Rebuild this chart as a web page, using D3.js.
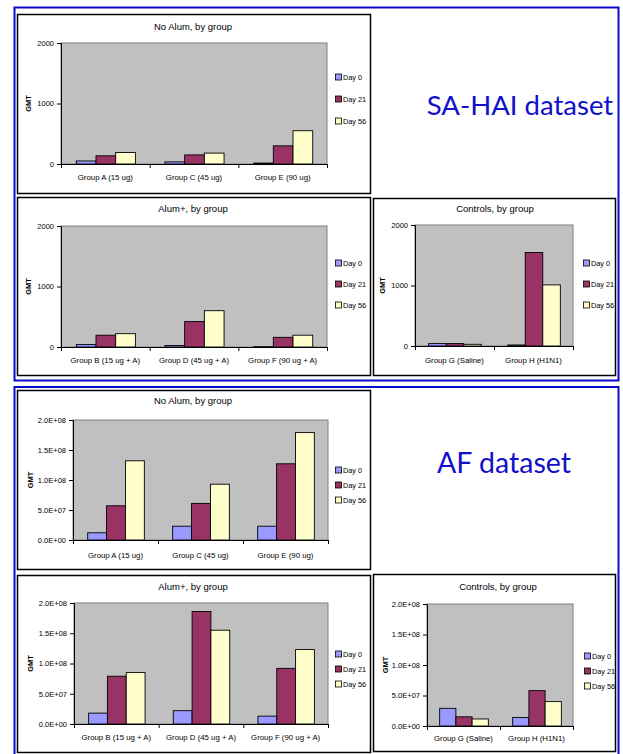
<!DOCTYPE html>
<html>
<head>
<meta charset="utf-8">
<script src="https://cdn.jsdelivr.net/npm/d3@7"></script>
<style>
  html, body { margin: 0; padding: 0; background: #fff; }
  svg { display: block; }
  text { font-family: "Liberation Sans", Arial, sans-serif; fill: #000; }
</style>
</head>
<body>
<svg id="chart" width="623" height="754"></svg>
<script>
// ---- data ----
const seriesNames = ["Day 0", "Day 21", "Day 56"];
const seriesColors = ["#9999ff", "#993366", "#ffffcc"];

// SA-HAI dataset (GMT)
const haiNoAlumGroups = ["Group A (15 ug)", "Group C (45 ug)", "Group E (90 ug)"];
const haiNoAlumDay0  = [50, 35, 15];
const haiNoAlumDay21 = [135, 150, 300];
const haiNoAlumDay56 = [190, 180, 550];

const haiAlumGroups = ["Group B (15 ug + A)", "Group D (45 ug + A)", "Group F (90 ug + A)"];
const haiAlumDay0  = [40, 25, 5];
const haiAlumDay21 = [195, 420, 160];
const haiAlumDay56 = [220, 600, 195];

const haiControlGroups = ["Group G (Saline)", "Group H (H1N1)"];
const haiControlDay0  = [40, 17];
const haiControlDay21 = [40, 1545];
const haiControlDay56 = [28, 1010];

const haiTicks = [0, 1000, 2000];
const haiTickLabels = ["0", "1000", "2000"];

// AF dataset (GMT)
const afNoAlumGroups = ["Group A (15 ug)", "Group C (45 ug)", "Group E (90 ug)"];
const afNoAlumDay0  = [1.2e7, 2.3e7, 2.3e7];
const afNoAlumDay21 = [5.7e7, 6.1e7, 1.27e8];
const afNoAlumDay56 = [1.32e8, 9.3e7, 1.79e8];

const afAlumGroups = ["Group B (15 ug + A)", "Group D (45 ug + A)", "Group F (90 ug + A)"];
const afAlumDay0  = [1.8e7, 2.2e7, 1.3e7];
const afAlumDay21 = [7.9e7, 1.86e8, 9.2e7];
const afAlumDay56 = [8.5e7, 1.55e8, 1.23e8];

const afControlGroups = ["Group G (Saline)", "Group H (H1N1)"];
const afControlDay0  = [2.9e7, 1.4e7];
const afControlDay21 = [1.5e7, 5.8e7];
const afControlDay56 = [1.15e7, 4.0e7];

const afTicks = [0, 5e7, 1e8, 1.5e8, 2e8];
const afTickLabels = ["0.0E+00", "5.0E+07", "1.0E+08", "1.5E+08", "2.0E+08"];

const datasetLabels = ["SA-HAI dataset", "AF dataset"];

// ---- drawing ----
const svg = d3.select("#chart");

// dataset frames
const frameColor = "#0a0acc";
svg.append("rect").attr("x", 14.5).attr("y", 7.5).attr("width", 604).attr("height", 373)
  .attr("fill", "none").attr("stroke", frameColor).attr("stroke-width", 2);
svg.append("rect").attr("x", 14.5).attr("y", 387).attr("width", 604).attr("height", 400)
  .attr("fill", "none").attr("stroke", frameColor).attr("stroke-width", 2);

svg.append("text").attr("x", 520).attr("y", 115).attr("text-anchor", "middle")
  .style("font-family", "Lato, 'Open Sans', sans-serif").style("font-size", "27.5px")
  .style("fill", "#1010cc").text(datasetLabels[0]);
svg.append("text").attr("x", 504).attr("y", 473).attr("text-anchor", "middle")
  .style("font-family", "Lato, 'Open Sans', sans-serif").style("font-size", "28.5px")
  .style("fill", "#1010cc").text(datasetLabels[1]);

function drawPanel(cfg) {
  const g = svg.append("g");
  // panel frame
  g.append("rect")
    .attr("x", cfg.box[0] + 0.5).attr("y", cfg.box[1] + 0.5)
    .attr("width", cfg.box[2] - cfg.box[0]).attr("height", cfg.box[3] - cfg.box[1])
    .attr("fill", "#fff").attr("stroke", "#000").attr("stroke-width", 1.5);

  const [px0, py0, px1, py1] = cfg.plot;
  const x0 = d3.scaleBand().domain(cfg.groups).range([px0, px1]).paddingInner(0).paddingOuter(0);
  const x1 = d3.scaleBand().domain(seriesNames).range([0, x0.bandwidth()])
    .paddingInner(0).paddingOuter(0.75);
  const y = d3.scaleLinear().domain([0, cfg.ticks[cfg.ticks.length - 1]]).range([py1, py0]);

  // plot area
  g.append("rect").attr("x", px0).attr("y", py0).attr("width", px1 - px0).attr("height", py1 - py0)
    .attr("fill", "#c0c0c0").attr("stroke", "#808080").attr("stroke-width", 1);

  // bars
  const rows = cfg.groups.map((grp, i) => ({
    group: grp,
    values: seriesNames.map((s, j) => ({ series: s, value: cfg.series[j][i], color: seriesColors[j] }))
  }));
  g.selectAll("g.grp").data(rows).join("g").attr("class", "grp")
    .attr("transform", d => `translate(${x0(d.group)},0)`)
    .selectAll("rect").data(d => d.values).join("rect")
    .attr("x", d => x1(d.series) + 0.5)
    .attr("y", d => y(d.value))
    .attr("width", x1.bandwidth())
    .attr("height", d => py1 - y(d.value))
    .attr("fill", d => d.color)
    .attr("stroke", "#000").attr("stroke-width", 0.9);

  // y axis
  const labelMap = new Map(cfg.ticks.map((t, i) => [t, cfg.tickLabels[i]]));
  const yAxis = g.append("g").attr("transform", `translate(${px0},0)`)
    .call(d3.axisLeft(y).tickValues(cfg.ticks).tickFormat(t => labelMap.get(t)).tickSize(4).tickPadding(3));
  yAxis.select(".domain").attr("stroke", "#000");
  yAxis.selectAll("line").attr("stroke", "#000");
  yAxis.selectAll("text").style("font-size", "7.5px").style("font-family", "'Liberation Sans', Arial, sans-serif");

  // x axis with ticks between categories
  const xAxis = g.append("g").attr("transform", `translate(0,${py1})`);
  xAxis.append("line").attr("x1", px0).attr("x2", px1).attr("y1", 0.5).attr("y2", 0.5).attr("stroke", "#000");
  const bounds = cfg.groups.map(gr => x0(gr)).concat([px1]);
  xAxis.selectAll("line.tk").data(bounds).join("line").attr("class", "tk")
    .attr("x1", d => d + 0.5).attr("x2", d => d + 0.5).attr("y1", 0).attr("y2", 4).attr("stroke", "#000");
  xAxis.selectAll("text").data(cfg.groups).join("text")
    .attr("x", d => x0(d) + x0.bandwidth() / 2).attr("y", cfg.xLabelY - py1)
    .attr("text-anchor", "middle").attr("dy", "0.35em")
    .style("font-size", "7.8px").text(d => d);

  // y axis title
  g.append("text").attr("transform", `translate(${cfg.gmtX},${(py0 + py1) / 2}) rotate(-90)`)
    .attr("text-anchor", "middle").attr("dy", "0.35em")
    .style("font-size", "7.5px").style("font-weight", "bold").text("GMT");

  // chart title
  g.append("text").attr("x", cfg.titleX).attr("y", cfg.titleY).attr("text-anchor", "middle")
    .attr("dy", "0.35em").style("font-size", "9.5px").text(cfg.title);

  // legend
  const leg = g.selectAll("g.leg").data(seriesNames).join("g").attr("class", "leg")
    .attr("transform", (d, i) => `translate(${cfg.legendX},${cfg.legendY[i]})`);
  leg.append("rect").attr("x", -2.5).attr("y", -3).attr("width", 6).attr("height", 6)
    .attr("fill", (d, i) => seriesColors[i]).attr("stroke", "#000").attr("stroke-width", 0.8);
  leg.append("text").attr("x", 5).attr("dy", "0.35em").style("font-size", "7.3px").text(d => d);
}

drawPanel({
  title: "No Alum, by group", groups: haiNoAlumGroups,
  series: [haiNoAlumDay0, haiNoAlumDay21, haiNoAlumDay56],
  ticks: haiTicks, tickLabels: haiTickLabels,
  box: [17, 14, 370, 193], plot: [61, 43, 327, 164],
  titleX: 193, titleY: 27, xLabelY: 177, gmtX: 28,
  legendX: 338, legendY: [77, 99, 121]
});
drawPanel({
  title: "Alum+, by group", groups: haiAlumGroups,
  series: [haiAlumDay0, haiAlumDay21, haiAlumDay56],
  ticks: haiTicks, tickLabels: haiTickLabels,
  box: [17, 197, 370, 375], plot: [61, 226, 327, 347],
  titleX: 193, titleY: 209, xLabelY: 360, gmtX: 28,
  legendX: 338, legendY: [263, 284, 305]
});
drawPanel({
  title: "Controls, by group", groups: haiControlGroups,
  series: [haiControlDay0, haiControlDay21, haiControlDay56],
  ticks: haiTicks, tickLabels: haiTickLabels,
  box: [373, 198, 615, 375], plot: [415, 225, 573, 346],
  titleX: 495, titleY: 209, xLabelY: 360, gmtX: 382,
  legendX: 586, legendY: [263, 284, 305]
});
drawPanel({
  title: "No Alum, by group", groups: afNoAlumGroups,
  series: [afNoAlumDay0, afNoAlumDay21, afNoAlumDay56],
  ticks: afTicks, tickLabels: afTickLabels,
  box: [17, 390, 370, 569], plot: [73, 420, 328, 540],
  titleX: 193, titleY: 401, xLabelY: 555, gmtX: 30,
  legendX: 338, legendY: [470, 485, 500]
});
drawPanel({
  title: "Alum+, by group", groups: afAlumGroups,
  series: [afAlumDay0, afAlumDay21, afAlumDay56],
  ticks: afTicks, tickLabels: afTickLabels,
  box: [17, 575, 370, 752], plot: [74, 603, 328, 724],
  titleX: 193, titleY: 587, xLabelY: 737, gmtX: 30,
  legendX: 338, legendY: [654, 669, 684]
});
drawPanel({
  title: "Controls, by group", groups: afControlGroups,
  series: [afControlDay0, afControlDay21, afControlDay56],
  ticks: afTicks, tickLabels: afTickLabels,
  box: [373, 574, 615, 751], plot: [427, 604, 573, 726],
  titleX: 498, titleY: 587, xLabelY: 738, gmtX: 385,
  legendX: 587, legendY: [656, 671, 686]
});
</script>
</body>
</html>
